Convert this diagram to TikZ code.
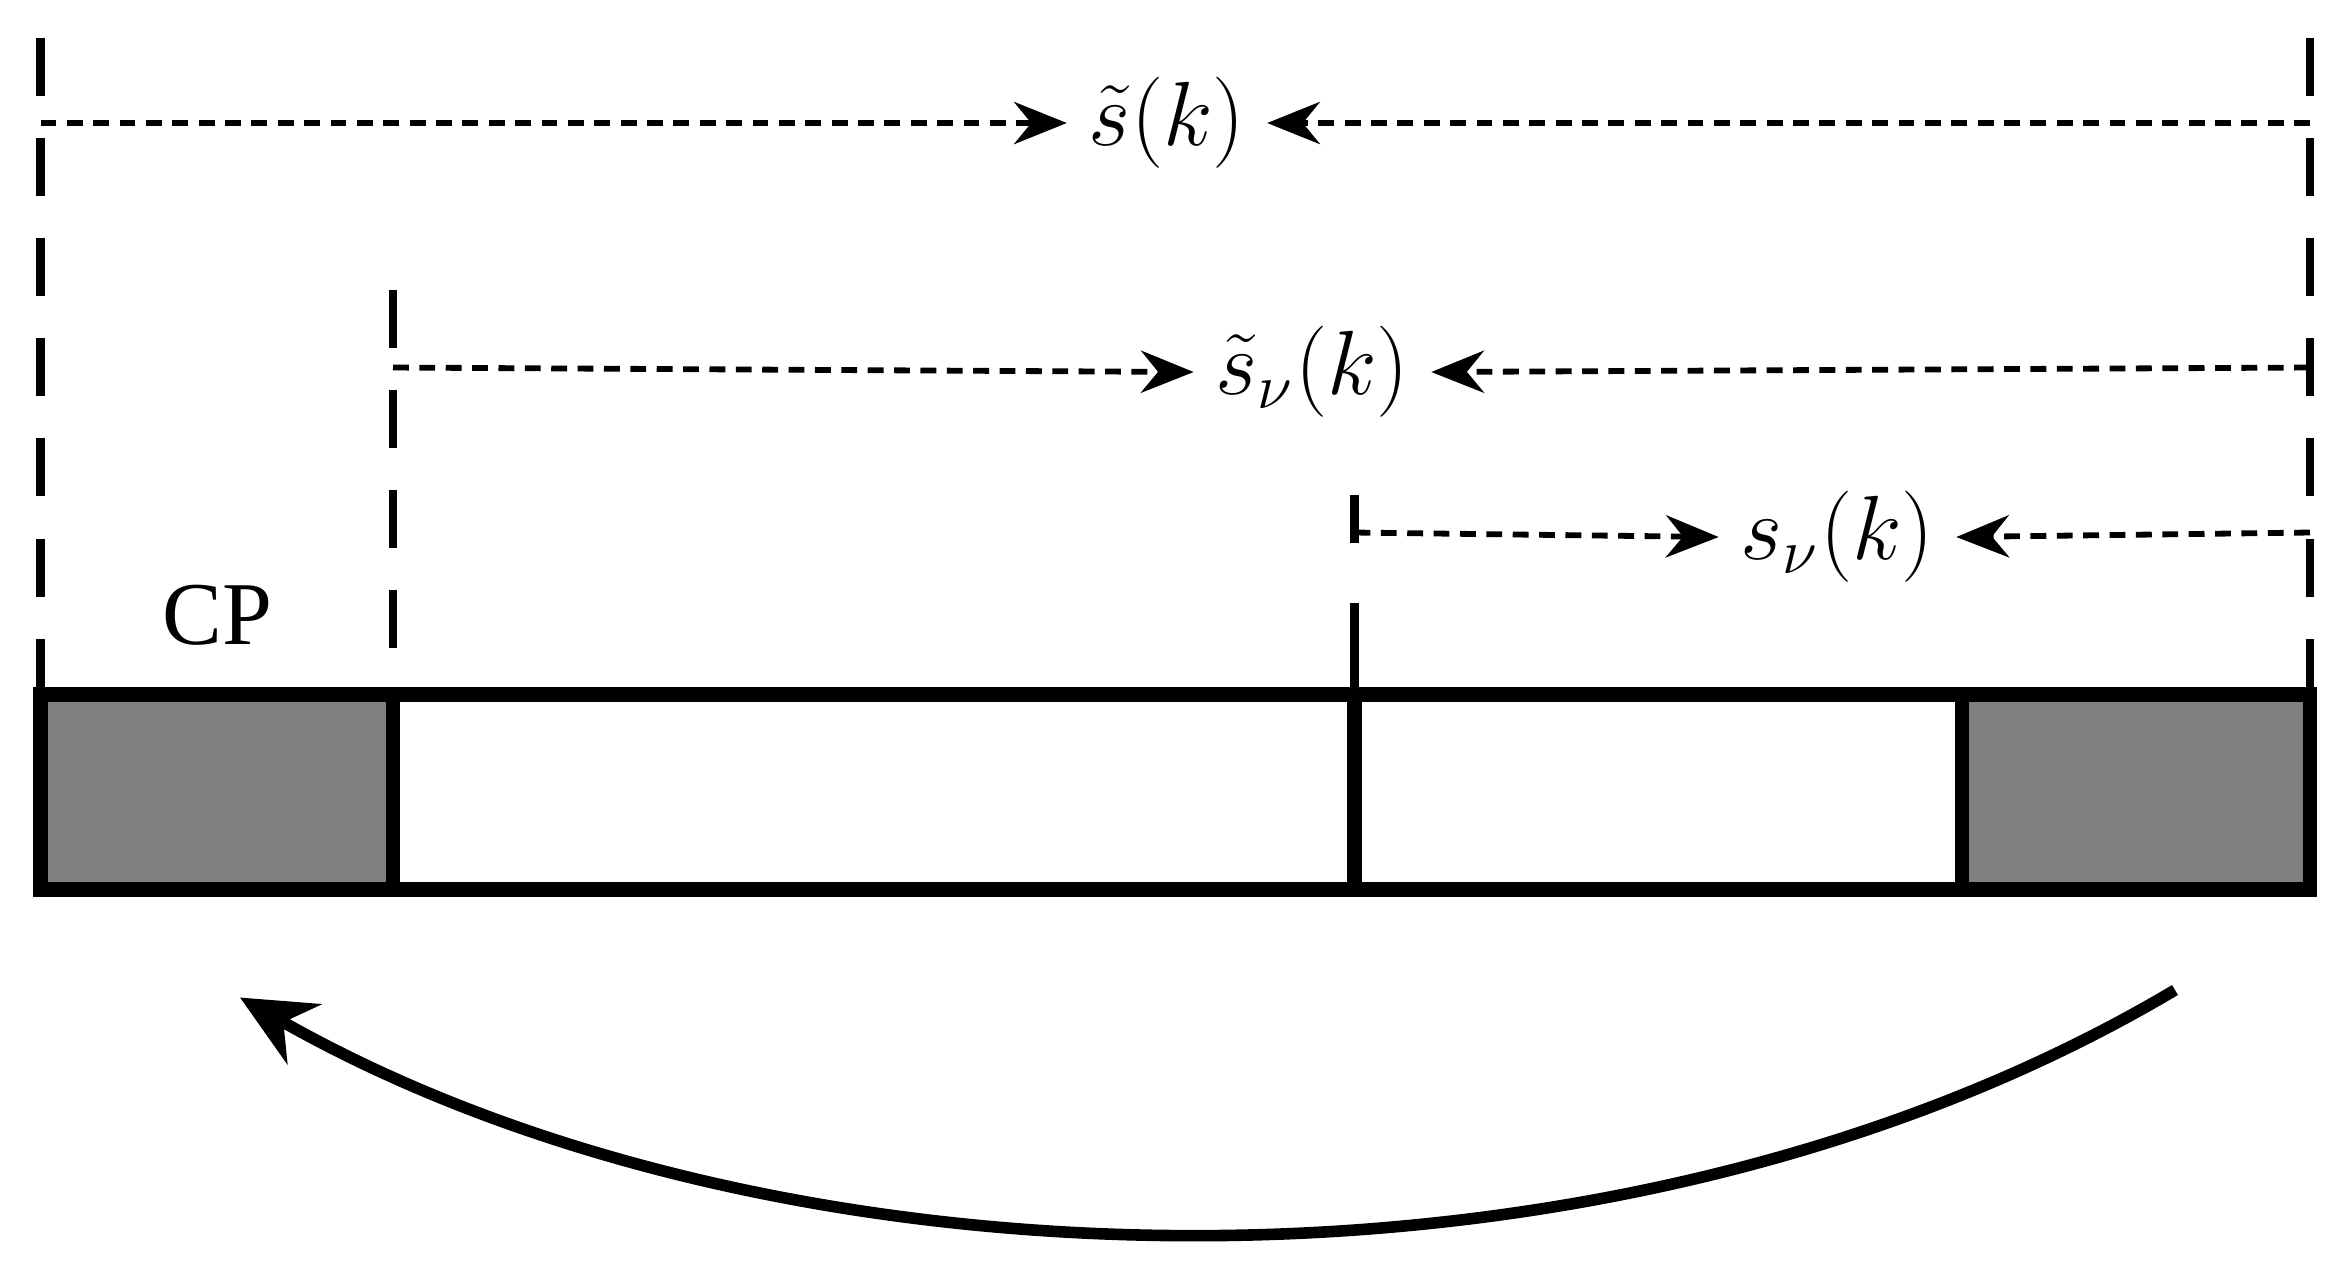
\documentclass[tikz,border=0pt]{standalone}
\usepackage{fontspec}
\setmainfont{Liberation Serif}
\usetikzlibrary{arrows.meta, positioning}
\tikzset{>=Stealth}

\begin{document}
\begin{tikzpicture}[x=0.01cm, y=-0.01cm,
  bar/.style={line width=2.8pt},
  edge/.style={line width=1.7pt, dash pattern=on 11pt off 8pt},
  span/.style={line width=1.1pt, dash pattern=on 3pt off 2pt, -{Stealth[length=10pt,width=8pt]}},
  lbl/.style={font=\fontsize{17}{20}\selectfont, inner sep=4pt}]
  \useasboundingbox (0,0) rectangle (1568,841);
  % blocks
  \fill[gray!100!black] (27,463) rectangle (262,593);
  \fill[gray!100!black] (1308,463) rectangle (1540,593);
  \draw[bar] (27,463) rectangle (1540,593);
  \foreach \x in {262, 903, 1308}
  {
      \draw[bar] (\x,463)--(\x,593);
  }
  % boundaries
  \draw[edge] (27,25)--(27,463);
  \draw[edge] (1540,25)--(1540,463);
  \draw[edge] (262,193)--(262,463);
  \draw[line width=1.7pt] (903,463)--(903,402) (903,362)--(903,330);
  \node[font=\fontsize{17}{20}\selectfont] (cp) at (145,410) {CP};
  % symbol lengths
  \node[lbl] (s) at (778,82) {$\tilde{s}\Big(k\Big)$};
  \draw[span] (27,82)--(s.west);
  \draw[span] (1540,82)--(s.east);
  \node[lbl] (sv) at (875,248) {$\tilde{s}_{\nu}\Big(k\Big)$};
  \draw[span] (262,245)--(sv.west);
  \draw[span] (1540,245)--(sv.east);
  \node[lbl] (s1) at (1225,358) {$s_{\nu}\Big(k\Big)$};
  \draw[span] (903,355)--(s1.west);
  \draw[span] (1540,355)--(s1.east);
  % copy
  \coordinate (from) at (1450,660);
  \coordinate (to) at (160,665);
  \draw[line width=2.2pt, -{Stealth[length=14pt,width=13pt]}] (from) .. controls (1080,880) and (520,870) .. (to);
\end{tikzpicture}
\end{document}
